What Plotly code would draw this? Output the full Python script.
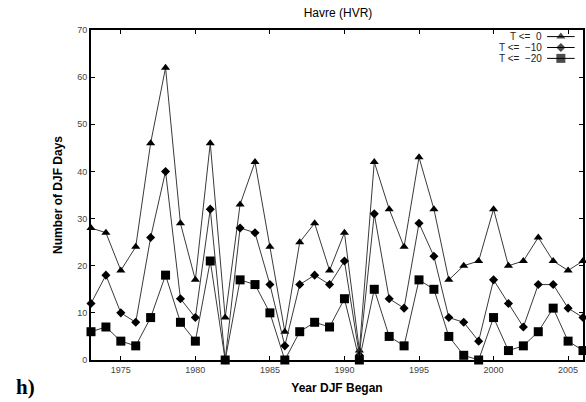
import plotly.graph_objects as go

years = list(range(1973, 2007))
t_le_0 = [28, 27, 19, 24, 46, 62, 29, 17, 46, 9, 33, 42, 24, 6, 25, 29, 19, 27, 2, 42,
          32, 24, 43, 32, 17, 20, 21, 32, 20, 21, 26, 21, 19, 21]
t_le_m10 = [12, 18, 10, 8, 26, 40, 13, 9, 32, 0, 28, 27, 16, 3, 16, 18, 16, 21, 1, 31,
            13, 11, 29, 22, 9, 8, 4, 17, 12, 7, 16, 16, 11, 9]
t_le_m20 = [6, 7, 4, 3, 9, 18, 8, 4, 21, 0, 17, 16, 10, 0, 6, 8, 7, 13, 0, 15,
            5, 3, 17, 15, 5, 1, 0, 9, 2, 3, 6, 11, 4, 2]
series_names = ["T <=  0", "T <=  \u221210", "T <=  \u221220"]
x_ticks = [1975, 1980, 1985, 1990, 1995, 2000, 2005]
y_ticks = [0, 10, 20, 30, 40, 50, 60, 70]

symbols = ["triangle-up", "diamond", "square"]
sizes = [8, 7, 9]
line_col = "#3a3a3a"

fig = go.Figure()
for name, vals, sym, sz in zip(series_names, [t_le_0, t_le_m10, t_le_m20], symbols, sizes):
    fig.add_trace(go.Scatter(
        x=years, y=vals, mode="lines+markers", name=name,
        line=dict(color=line_col, width=1),
        marker=dict(symbol=sym, size=sz, color="black", line=dict(width=0)),
        cliponaxis=False, showlegend=False,
    ))

# gnuplot-style key: label text then a sample line with marker (on an overlay unit axis)
key_rows = [0.980, 0.947, 0.914]
for name, sym, sz, ky in zip(series_names, symbols, sizes, key_rows):
    fig.add_trace(go.Scatter(
        x=[0.927, 0.955, 0.983], y=[ky, ky, ky], mode="lines+markers",
        xaxis="x2", yaxis="y2",
        line=dict(color="black", width=1),
        marker=dict(symbol=sym, size=[0, sz, 0], color="black", line=dict(width=0)),
        showlegend=False, hoverinfo="skip", cliponaxis=False,
    ))
    fig.add_annotation(xref="x2", yref="y2", x=0.921, y=ky, text=name,
                       showarrow=False, xanchor="right", yanchor="middle",
                       font=dict(family="Liberation Sans, Arial", size=10, color="#222"))

axis_common = dict(
    showline=True, linecolor="black", linewidth=2, mirror="ticks",
    ticks="inside", ticklen=4, tickcolor="black", tickwidth=1,
    showgrid=False, zeroline=False,
    tickfont=dict(family="Liberation Sans, Arial", size=9, color="#444"),
)

fig.update_layout(
    width=586, height=402,
    margin=dict(l=91, r=1, t=30, b=42),
    paper_bgcolor="white", plot_bgcolor="white",
    title=dict(text="Havre (HVR)", x=(91 + 585) / 2 / 586, xanchor="center",
               y=1 - 13 / 402, yanchor="middle",
               font=dict(family="Liberation Sans, Arial", size=12, color="black")),
    xaxis=dict(range=[1973, 2006], tickvals=x_ticks,
               title=dict(text="<b>Year DJF Began</b>", standoff=10,
                          font=dict(family="Liberation Sans, Arial", size=12, color="black")),
               **axis_common),
    yaxis=dict(range=[0, 70], tickvals=y_ticks,
               title=dict(text="<b>Number of DJF Days</b>", standoff=12,
                          font=dict(family="Liberation Sans, Arial", size=12, color="black")),
               **axis_common),
    xaxis2=dict(overlaying="x", range=[0, 1], visible=False),
    yaxis2=dict(overlaying="y", range=[0, 1], visible=False),
)

fig.add_annotation(xref="paper", yref="paper", x=-(91 - 14) / 494, y=-(401 - 360) / 330,
                   text="<b>h)</b>", showarrow=False, xanchor="left", yanchor="bottom",
                   font=dict(family="Liberation Serif, Times New Roman", size=21, color="black"))

fig.write_html("out.html")
